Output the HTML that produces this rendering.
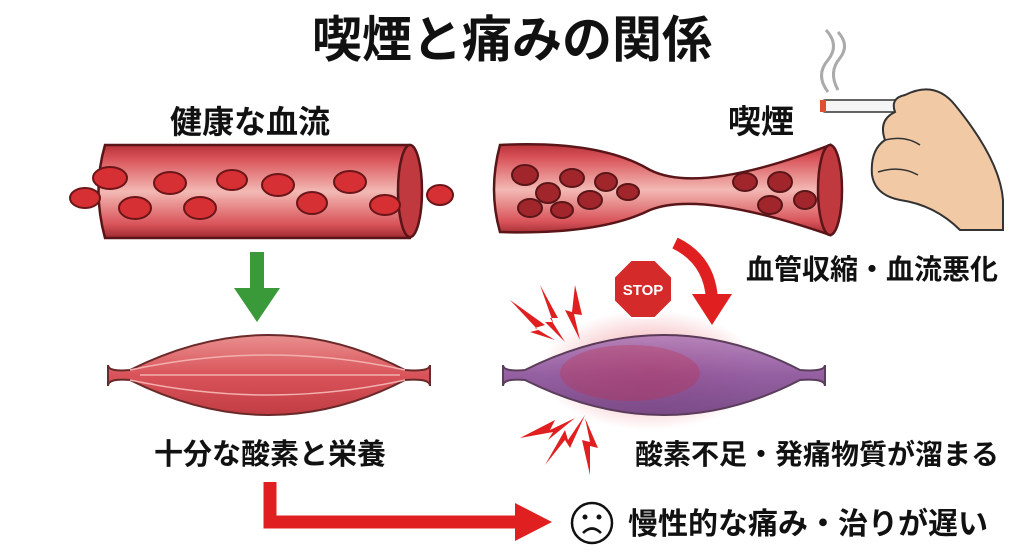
<!DOCTYPE html>
<html><head><meta charset="utf-8"><style>
body{margin:0;background:#fff;}
svg{display:block;}
text{font-family:"Liberation Sans","Noto Sans CJK JP",sans-serif;font-weight:bold;fill:#111;}
</style></head><body>
<svg width="1024" height="559" viewBox="0 0 1024 559" xmlns="http://www.w3.org/2000/svg">
<defs>
<linearGradient id="tube" x1="0" y1="0" x2="0" y2="1">
<stop offset="0" stop-color="#b8323a"/><stop offset="0.15" stop-color="#d9545a"/><stop offset="0.5" stop-color="#f3b9b4"/><stop offset="0.85" stop-color="#d9545a"/><stop offset="1" stop-color="#9e2a30"/></linearGradient>
<linearGradient id="musL" x1="0" y1="0" x2="0" y2="1">
<stop offset="0" stop-color="#e98f8f"/><stop offset="0.5" stop-color="#d9545a"/><stop offset="1" stop-color="#c23c44"/></linearGradient>
<linearGradient id="musR" x1="0" y1="0" x2="0" y2="1">
<stop offset="0" stop-color="#b07bb6"/><stop offset="0.5" stop-color="#8a4f98"/><stop offset="1" stop-color="#6d3b7e"/></linearGradient>
<radialGradient id="glow"><stop offset="0" stop-color="#e03040" stop-opacity="0.55"/><stop offset="1" stop-color="#e03040" stop-opacity="0"/></radialGradient>
</defs>

<text x="512" y="57" font-size="50" text-anchor="middle">喫煙と痛みの関係</text>
<text x="250" y="133" font-size="32" text-anchor="middle">健康な血流</text>
<text x="761" y="133" font-size="33" text-anchor="middle">喫煙</text>

<!-- left vessel -->
<path d="M105,145 L410,145 Q425,190 410,238 L105,238 Q92,190 105,145z" fill="url(#tube)" stroke="#5a1518" stroke-width="2.5"/>
<ellipse cx="410" cy="191" rx="12" ry="46" fill="#c0393f" stroke="#5a1518" stroke-width="2.5"/>
<g fill="#d62f34" stroke="#6a1518" stroke-width="2">
<ellipse cx="110" cy="178" rx="17" ry="11"/><ellipse cx="85" cy="198" rx="15" ry="10"/><ellipse cx="170" cy="183" rx="16" ry="11"/>
<ellipse cx="135" cy="208" rx="16" ry="11"/><ellipse cx="200" cy="208" rx="16" ry="11"/><ellipse cx="232" cy="180" rx="15" ry="10"/>
<ellipse cx="278" cy="185" rx="16" ry="11"/><ellipse cx="312" cy="203" rx="15" ry="11"/><ellipse cx="350" cy="182" rx="16" ry="11"/>
<ellipse cx="385" cy="205" rx="15" ry="10"/><ellipse cx="440" cy="195" rx="13" ry="10"/>
</g>
<!-- right vessel -->
<path d="M500,145 Q600,140 650,170 Q700,195 830,145 L830,235 Q700,190 650,210 Q600,235 500,232 Q488,190 500,145z" fill="url(#tube)" stroke="#5a1518" stroke-width="2.5"/>
<ellipse cx="830" cy="190" rx="12" ry="45" fill="#c0393f" stroke="#5a1518" stroke-width="2.5"/>
<g fill="#a0262c" stroke="#5a1518" stroke-width="2">
<ellipse cx="525" cy="175" rx="13" ry="10"/><ellipse cx="548" cy="193" rx="12" ry="10"/><ellipse cx="572" cy="178" rx="12" ry="9"/>
<ellipse cx="530" cy="208" rx="12" ry="9"/><ellipse cx="590" cy="200" rx="12" ry="9"/><ellipse cx="606" cy="182" rx="11" ry="9"/>
<ellipse cx="628" cy="192" rx="11" ry="8"/><ellipse cx="745" cy="182" rx="12" ry="9"/><ellipse cx="780" cy="182" rx="12" ry="10"/>
<ellipse cx="770" cy="205" rx="12" ry="9"/><ellipse cx="805" cy="200" rx="11" ry="9"/><ellipse cx="562" cy="210" rx="11" ry="8"/>
</g>

<!-- hand with cigarette -->
<path d="M828,92 Q815,75 828,60 Q840,45 826,30 M838,90 Q828,72 840,58 Q850,45 838,32" stroke="#aaa" stroke-width="3" fill="none"/>
<rect x="822" y="100" width="80" height="12" rx="3" fill="#f5f5f5" stroke="#333" stroke-width="1.5"/>
<rect x="895" y="100" width="30" height="12" fill="#d9903f" stroke="#333" stroke-width="1.5"/>
<rect x="820" y="100" width="6" height="12" fill="#e05030"/>
<path d="M905,95 Q935,80 955,105 Q1000,160 1003,200 L1003,230 L960,230 Q935,205 900,200 Q875,195 872,175 Q870,150 885,140 Q878,120 895,112 Q890,98 905,95z" fill="#f1c9a4" stroke="#333" stroke-width="2"/>
<path d="M885,140 Q905,135 920,145 M878,172 Q900,165 918,175" stroke="#333" stroke-width="1.5" fill="none"/>

<!-- green arrow -->
<rect x="250" y="252" width="14" height="40" fill="#3a9a3a"/>
<path d="M234,288 L280,288 L257,322z" fill="#3a9a3a"/>

<!-- muscles -->
<path d="M108,365 Q108,372 130,370 Q270,300 405,370 Q430,372 430,365 L430,386 Q430,378 405,380 Q270,450 130,380 Q108,378 108,386z" fill="url(#musL)" stroke="#6a2a2a" stroke-width="2"/>
<path d="M130,370 Q270,340 405,370 M130,380 Q270,410 405,380 M140,375 L400,375" stroke="#f2b0ae" stroke-width="1.5" fill="none"/>
<ellipse cx="650" cy="370" rx="110" ry="60" fill="url(#glow)"/>
<path d="M503,365 Q503,372 525,370 Q665,300 800,370 Q825,372 825,365 L825,386 Q825,378 800,380 Q665,450 525,380 Q503,378 503,386z" fill="url(#musR)" stroke="#4a2a4a" stroke-width="2" opacity="0.9"/>
<ellipse cx="630" cy="373" rx="70" ry="28" fill="#c03050" opacity="0.35"/>

<!-- STOP -->
<polygon points="631,260 655,260 672,277 672,301 655,318 631,318 614,301 614,277" fill="#d42a2a" stroke="#fff" stroke-width="2"/>
<text x="643" y="295" font-size="15" style="fill:#fff" text-anchor="middle">STOP</text>
<!-- red curved arrow -->
<path d="M675,243 Q710,260 712,300" stroke="#e02020" stroke-width="12" fill="none"/>
<path d="M692,294 L732,294 L712,325z" fill="#e02020"/>

<!-- lightning -->
<g fill="#e02020">
<path d="M510,300 L545,325 L535,328 L555,340 L530,332 L538,330z"/>
<path d="M540,285 L558,318 L550,318 L565,342 L545,322 L553,322z"/>
<path d="M575,285 L582,315 L574,314 L580,340 L565,310 L572,312z"/>
<path d="M520,438 L555,420 L550,430 L575,418 L548,440 L553,432z"/>
<path d="M545,465 L565,430 L568,440 L585,415 L570,448 L565,440z"/>
<path d="M590,475 L582,440 L590,442 L585,418 L598,448 L590,446z"/>
</g>

<text x="872" y="279" font-size="28" text-anchor="middle">血管収縮・血流悪化</text>
<text x="270" y="464" font-size="29" text-anchor="middle">十分な酸素と栄養</text>
<text x="817" y="464" font-size="28" text-anchor="middle">酸素不足・発痛物質が溜まる</text>

<!-- red L arrow -->
<path d="M270,482 L270,522 L520,522" stroke="#e02020" stroke-width="13" fill="none"/>
<path d="M515,503 L552,522 L515,541z" fill="#e02020"/>

<!-- face -->
<circle cx="592" cy="523" r="20" fill="#fff" stroke="#111" stroke-width="2.5"/>
<circle cx="585" cy="517" r="2.5" fill="#111"/><circle cx="599" cy="517" r="2.5" fill="#111"/>
<path d="M583,533 Q592,524 601,533" stroke="#111" stroke-width="2.5" fill="none"/>
<text x="808" y="534" font-size="30" text-anchor="middle">慢性的な痛み・治りが遅い</text>
</svg>
</body></html>
